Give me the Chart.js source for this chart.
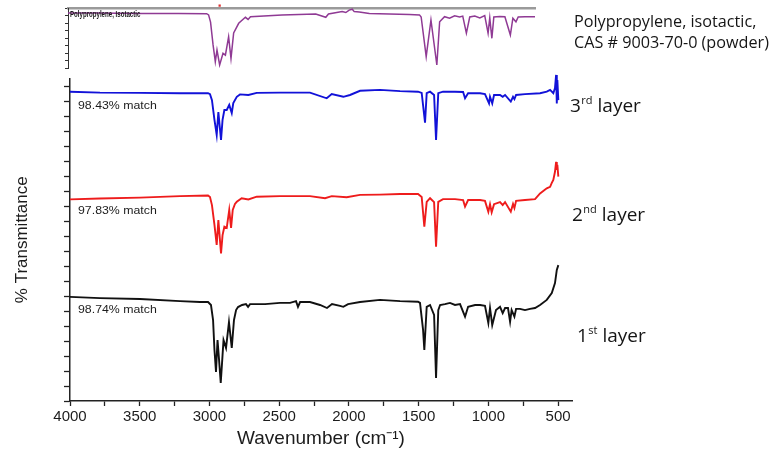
<!DOCTYPE html>
<html>
<head>
<meta charset="utf-8">
<script src="https://cdn.jsdelivr.net/npm/chart.js@4/dist/chart.umd.min.js"></script>
<style>
  html, body { margin: 0; padding: 0; background: #fff; }
  #wrap { position: relative; width: 769px; height: 455px; overflow: hidden; }
  #main, #ref { position: absolute; left: 0; top: 0; }
</style>
</head>
<body>
<div id="wrap">
  <canvas id="main" width="769" height="455"></canvas>
  <canvas id="ref" width="769" height="80"></canvas>
</div>
<script>
// FTIR spectra of the three layers (offset %T) and the library reference spectrum.
const layer1Wn = [4000,3785,3498,3211,3068,3010,2989,2974,2964,2953,2942,2931,2919,2906,2899,2881,2860,2840,2824,2809,2795,2766,2738,2723,2709,2601,2494,2422,2379,2365,2350,2279,2207,2157,2121,2064,2040,2006,1920,1777,1633,1504,1490,1468,1459,1442,1418,1389,1375,1359,1346,1311,1275,1239,1203,1167,1145,1095,1059,1024,1000,988,972,945,916,897,880,859,844,833,813,801,773,737,701,665,629,581,545,522,509,498];
const layer1T  = [34.7,34.3,34.0,33.3,33.0,33.0,32.0,27.0,17.0,9.7,20.3,13.7,6.0,15.3,20.3,17.7,26.3,17.7,27.0,30.3,31.3,32.0,32.3,31.4,32.3,32.3,32.7,32.7,33.3,31.4,33.0,33.0,32.0,31.0,32.3,31.7,31.4,32.3,33.0,33.7,33.3,33.1,32.7,23.7,17.0,31.4,32.0,28.7,7.7,30.3,32.0,32.3,32.7,32.0,32.3,28.1,31.4,32.0,32.0,31.7,26.0,31.0,25.3,30.3,31.4,29.3,31.0,31.0,26.4,30.3,28.1,30.7,30.7,30.3,30.7,31.0,32.0,33.7,36.0,39.3,43.7,45.3];

const layer2Wn = [4000,3785,3498,3211,3010,2996,2982,2964,2948,2936,2917,2906,2893,2876,2858,2845,2833,2817,2804,2769,2721,2661,2494,2279,2171,2123,2016,1920,1777,1633,1504,1478,1459,1442,1418,1389,1375,1359,1325,1239,1181,1167,1145,1059,1024,1000,988,976,959,916,897,880,839,823,813,801,737,665,629,581,557,545,534,522,514,509,505,498];
const layer2T  = [67.2,67.5,67.8,68.3,68.5,68.0,65.3,58.7,52.0,60.3,49.2,55.3,58.1,57.7,63.7,57.7,63.7,65.7,66.4,67.6,67.2,68.1,68.3,68.3,67.6,68.3,67.9,68.7,68.8,69.0,69.0,68.0,58.1,66.4,67.6,66.3,51.4,66.4,67.3,67.3,67.0,64.8,67.0,67.0,66.7,63.1,65.6,62.9,65.6,66.3,65.3,66.3,63.1,65.7,64.3,66.7,67.0,67.3,69.2,70.9,71.4,72.7,73.7,76.4,79.7,77.0,78.7,74.8];

const layer3Wn = [4000,3785,3498,3211,3010,2996,2982,2964,2948,2936,2917,2906,2893,2876,2858,2840,2829,2804,2781,2721,2661,2494,2279,2159,2123,2040,1992,1920,1777,1633,1504,1478,1454,1442,1418,1389,1375,1359,1325,1239,1181,1167,1145,1059,1024,995,988,972,959,916,897,880,839,823,813,801,737,629,581,557,534,522,514,509,505,498];
const layer3T  = [103.1,102.8,102.7,102.6,102.6,102.3,100.3,93.7,88.7,96.3,87.0,93.7,97.0,97.0,98.7,96.0,99.3,101.4,102.2,102.0,102.7,102.8,102.8,100.9,102.3,101.4,102.0,103.4,103.7,103.3,103.1,102.7,92.8,102.6,103.1,102.0,87.0,102.6,103.1,103.1,103.0,100.9,102.6,102.6,102.3,99.2,101.4,99.2,102.0,102.0,101.4,102.0,99.8,101.4,100.6,102.0,102.3,102.6,103.1,103.7,102.6,104.3,108.7,99.2,107.0,100.3];

const refWn = [4000,3785,3498,3211,3010,2996,2982,2964,2948,2936,2917,2893,2876,2853,2836,2817,2781,2733,2714,2697,2472,2231,2159,2140,2042,2016,1992,1970,1956,1920,1848,1705,1562,1490,1478,1442,1408,1366,1346,1311,1275,1239,1203,1181,1155,1131,1095,1059,1024,1000,988,973,959,916,880,841,823,801,785,737,665];
const refT  = [18.3,18.3,18.2,18.2,18.1,17.7,15.3,7.7,2.1,6.0,1.0,4.9,4.3,10.4,3.2,11.7,14.9,16.9,16.2,17.1,17.7,18.0,16.9,18.0,18.8,18.5,19.3,19.6,18.8,18.7,18.2,18.0,17.8,17.7,17.0,3.8,16.0,1.0,15.4,17.1,16.6,17.4,17.0,17.3,11.6,17.0,17.3,16.7,17.5,11.6,16.7,9.9,17.0,17.2,17.1,11.0,16.6,15.4,17.0,17.1,17.1];

// cursor position marked on the library spectrum
const cursorWn = [2917];

const matchLabels = ['98.43% match', '97.83% match', '98.74% match'];
const layerLabels = [['3', 'rd', ' layer'], ['2', 'nd', ' layer'], ['1', 'st', ' layer']];
const refTitle = ['Polypropylene, isotactic,', 'CAS # 9003-70-0 (powder)'];
const refInsetName = 'Polypropylene, Isotactic';

const pts = (xs, ys) => xs.map((x, i) => ({ x: x, y: ys[i] }));
const SANS = '"Liberation Sans", Arial, sans-serif';
const LABEL_FONT = '"Open Sans", Calibri, sans-serif';

function drawSup(ctx, parts, x, y, size) {
  ctx.font = size + 'px ' + LABEL_FONT;
  ctx.fillText(parts[0], x, y);
  let w = ctx.measureText(parts[0]).width + 0.5;
  ctx.font = Math.round(size * 0.6) + 'px ' + LABEL_FONT;
  ctx.fillText(parts[1], x + w, y - size * 0.34);
  w += ctx.measureText(parts[1]).width;
  ctx.font = size + 'px ' + LABEL_FONT;
  ctx.fillText(parts[2], x + w, y);
}

// text drawn with a horizontal scale factor
function stretchedText(ctx, text, x, y, sx) {
  ctx.save();
  ctx.translate(x, y);
  ctx.scale(sx, 1);
  ctx.fillText(text, 0, 0);
  ctx.restore();
}

const textPlugin = {
  id: 'spectraText',
  afterDraw(chart) {
    const ctx = chart.ctx;
    ctx.save();
    ctx.fillStyle = '#1c1c1c';
    ctx.textBaseline = 'middle';
    ctx.textAlign = 'left';
    ctx.font = '11px ' + SANS;
    const matchY = [106, 211, 310];
    matchLabels.forEach((t, i) => stretchedText(ctx, t, 78, matchY[i], 1.12));

    ctx.fillStyle = '#151515';
    ctx.font = '16.2px ' + LABEL_FONT;
    ctx.fillText(refTitle[0], 574, 22);
    ctx.fillText(refTitle[1], 574, 43);

    const lx = [570, 572, 577];
    const ly = [107, 216, 337];
    layerLabels.forEach((p, i) => drawSup(ctx, p, lx[i], ly[i], 19));
    ctx.restore();
  }
};

const mainChart = new Chart(document.getElementById('main'), {
  type: 'line',
  data: {
    datasets: [
      { label: '1st layer', data: pts(layer1Wn, layer1T), borderColor: '#111111', borderWidth: 1.9, clip: false },
      { label: '2nd layer', data: pts(layer2Wn, layer2T), borderColor: '#ee1c1c', borderWidth: 1.9, clip: false },
      { label: '3rd layer', data: pts(layer3Wn, layer3T), borderColor: '#1212d8', borderWidth: 1.9, clip: false }
    ]
  },
  options: {
    responsive: false,
    animation: false,
    devicePixelRatio: 1,
    layout: { padding: { left: 0, right: 197, top: 78.5, bottom: 0 } },
    plugins: { legend: { display: false }, tooltip: { enabled: false } },
    elements: { point: { radius: 0 }, line: { tension: 0, fill: false } },
    scales: {
      x: {
        type: 'linear', reverse: true, min: 400, max: 4000, position: 'bottom',
        afterFit(s) { s.height = 54; },
        ticks: {
          stepSize: 250, includeBounds: false, autoSkip: false, maxRotation: 0, padding: 2, color: '#1c1c1c',
          font: { family: SANS, size: 15 },
          callback: v => (v % 500 === 0 ? String(v) : '')
        },
        grid: { drawOnChartArea: false, drawTicks: true, tickLength: 5, tickColor: '#222', tickWidth: 1.3 },
        border: { display: true, color: '#222', width: 1.5 },
        title: { display: true, text: 'Wavenumber (cm\u207B\u00B9)', color: '#1c1c1c', font: { family: SANS, size: 19 }, padding: { top: 0, bottom: 5 } }
      },
      y: {
        type: 'linear', min: 0, max: 107.5,
        afterFit(s) { s.width = 70; },
        ticks: { display: false, stepSize: 5, includeBounds: false },
        grid: { drawOnChartArea: false, drawTicks: true, tickLength: 6, tickColor: '#222', tickWidth: 1.3 },
        border: { display: true, color: '#222', width: 1.5 },
        title: { display: true, text: '% Transmittance', color: '#1c1c1c', font: { family: SANS, size: 17 }, padding: { top: 12, bottom: 0 } }
      }
    }
  },
  plugins: [textPlugin]
});

const insetText = {
  id: 'insetText',
  afterDraw(chart) {
    const ctx = chart.ctx;
    ctx.save();
    ctx.fillStyle = '#1a1a1a';
    ctx.textBaseline = 'middle';
    ctx.font = 'bold 8.5px ' + SANS;
    stretchedText(ctx, refInsetName, 70, 15, 0.72);
    ctx.restore();
  }
};

const refChart = new Chart(document.getElementById('ref'), {
  type: 'line',
  data: {
    datasets: [
      { label: 'Polypropylene, isotactic', data: pts(refWn, refT), borderColor: '#8f3a94', borderWidth: 1.5, clip: false },
      { label: 'cursor', data: cursorWn.map(w => ({ x: w, y: 20.8 })), showLine: false, pointStyle: 'rect', pointRadius: 1.6, pointBackgroundColor: '#e03030', pointBorderWidth: 0, clip: false }
    ]
  },
  options: {
    responsive: false,
    animation: false,
    devicePixelRatio: 1,
    layout: { padding: { left: 68, right: 234, top: 8, bottom: 12 } },
    plugins: { legend: { display: false }, tooltip: { enabled: false } },
    elements: { point: { radius: 0 }, line: { tension: 0, fill: false } },
    scales: {
      x: {
        type: 'linear', reverse: true, min: 665, max: 4000, position: 'top',
        afterFit(s) { s.height = 0; },
        ticks: { display: false },
        grid: { display: false },
        border: { display: true, color: '#9a9a9a', width: 2.6 }
      },
      y: {
        type: 'linear', min: 0, max: 20,
        afterFit(s) { s.width = 0; },
        ticks: { display: false, stepSize: 2.5 },
        grid: { drawOnChartArea: false, drawTicks: true, tickLength: 3, tickColor: '#333', tickWidth: 1 },
        border: { display: true, color: '#333', width: 1 }
      }
    }
  },
  plugins: [insetText]
});
</script>
</body>
</html>
